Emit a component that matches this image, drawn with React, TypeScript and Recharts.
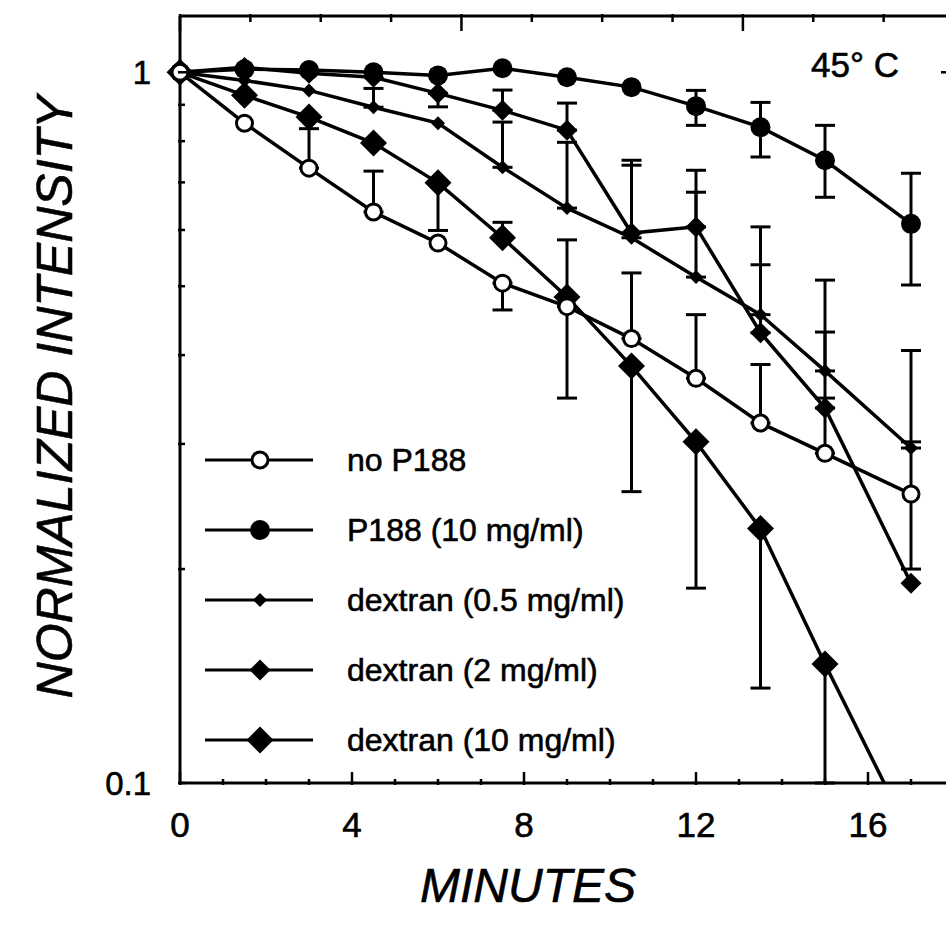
import React from 'react';
import { LineChart, Line, XAxis, YAxis, ErrorBar, Legend } from 'recharts';

// time points (minutes)
const minutes = [0, 1.5, 3, 4.5, 6, 7.5, 9, 10.5, 12, 13.5, 15, 17];

// normalized intensity per series
const noP188 = [1, 0.848, 0.733, 0.636, 0.575, 0.505, 0.468, 0.422, 0.371, 0.321, 0.291, 0.255];
const p188 = [1, 1.01, 1.007, 1.0, 0.99, 1.013, 0.984, 0.953, 0.896, 0.837, 0.752, 0.612];
const dex05 = [1, 0.974, 0.943, 0.893, 0.848, 0.735, 0.644, 0.585, 0.515, 0.456, 0.38, 0.296];
const dex2 = [1, 1.016, 0.997, 0.984, 0.934, 0.884, 0.829, 0.594, 0.606, 0.43, 0.337, 0.191];
const dex10 = [1, 0.928, 0.865, 0.795, 0.699, 0.585, 0.483, 0.386, 0.302, 0.228, 0.147, 0.084];

// error bars as [minus, plus], null = none drawn
type Err = [number, number] | null;
const noP188Err: Err[] = [null, null, [0, 0.1], [0, 0.09], null, [0.042, 0], [0.12, 0], [0, 0.1], [0, 0.085], [0, 0.067], [0, 0.057], [0.055, 0.047]];
const p188Err: Err[] = [null, null, null, null, null, null, null, null, [0.054, 0.047], [0.077, 0.07], [0.085, 0.09], [0.11, 0.109]];
const dex05Err: Err[] = [null, null, null, [0, 0.056], null, [0, 0.116], [0, 0.153], [0, 0.155], [0, 0.163], [0, 0.08], [0, 0.13], [0, 0.11]];
const dex2Err: Err[] = [null, null, null, null, [0.04, 0], [0, 0.06], [0, 0.076], [0, 0.158], [0, 0.122], [0, 0.176], [0, 0.094], null];
const dex10Err: Err[] = [null, null, null, null, [0.1, 0], [0, 0.03], [0, 0.098], [0.129, 0], [0.114, 0], [0.092, 0], [0.047, 0], null];

const xTicks = [0, 1, 2, 3, 4, 5, 6, 7, 8, 9, 10, 11, 12, 13, 14, 15, 16, 17, 18];
const xMajor = [0, 4, 8, 12, 16];
const yTicks = [0.1, 0.2, 0.3, 0.4, 0.5, 0.6, 0.7, 0.8, 0.9, 1];
const yLabels = [0.1, 1];

const series = [
  { key: 'noP188', name: 'no P188', marker: 'open', values: noP188, err: noP188Err },
  { key: 'p188', name: 'P188 (10 mg/ml)', marker: 'filled', values: p188, err: p188Err },
  { key: 'dex05', name: 'dextran (0.5 mg/ml)', marker: 'dS', values: dex05, err: dex05Err },
  { key: 'dex2', name: 'dextran (2 mg/ml)', marker: 'dM', values: dex2, err: dex2Err },
  { key: 'dex10', name: 'dextran (10 mg/ml)', marker: 'dL', values: dex10, err: dex10Err },
];

const rows = minutes.map((t, i) => {
  const row: any = { t };
  series.forEach((s) => {
    row[s.key] = s.values[i];
    if (s.err[i]) row[s.key + 'Err'] = s.err[i];
  });
  return row;
});

const font = '"Liberation Sans", Arial, Helvetica, sans-serif';
// slight stroke to thicken the text like the scanned original
const textInk = { fill: '#000', stroke: '#000', strokeWidth: 0.6 };

const diamond = (cx: number, cy: number, h: number) =>
  `M${cx},${cy - h} L${cx + h},${cy} L${cx},${cy + h} L${cx - h},${cy} Z`;

const Marker = ({ kind, cx, cy }: { kind: string; cx: number; cy: number }) => {
  if (cx == null || cy == null) return null;
  if (kind === 'open') return <circle cx={cx} cy={cy} r={8} fill="#fff" stroke="#000" strokeWidth={3} />;
  if (kind === 'filled') return <circle cx={cx} cy={cy} r={10} fill="#000" />;
  if (kind === 'dS') return <path d={diamond(cx, cy, 7)} fill="#000" />;
  if (kind === 'dM') return <path d={diamond(cx, cy, 10.5)} fill="#000" />;
  return <path d={diamond(cx, cy, 13.5)} fill="#000" />;
};

const BottomTick = ({ x, y, payload }: any) => {
  const major = xMajor.includes(payload.value);
  return (
    <g>
      <line x1={x} y1={y} x2={x} y2={y - (major ? 13 : 6)} stroke="#000" strokeWidth={2.5} />
      {major && (
        <text x={x} y={y + 52} textAnchor="middle" fontSize={35} fontFamily={font} {...textInk}>
          {payload.value}
        </text>
      )}
    </g>
  );
};

const TopTick = ({ x, y, payload }: any) => {
  const major = xMajor.includes(payload.value);
  return <line x1={x} y1={y} x2={x} y2={y + (major ? 17 : 8)} stroke="#000" strokeWidth={2.5} />;
};

const LeftTick = ({ x, y, payload }: any) => (
  <g>
    <line x1={x} y1={y} x2={x + (payload.value === 1 ? 14 : 7)} y2={y} stroke="#000" strokeWidth={2.5} />
    {yLabels.includes(payload.value) && (
      <text x={x - 27} y={y + 12} textAnchor="end" fontSize={33} fontFamily={font} {...textInk}>
        {payload.value}
      </text>
    )}
  </g>
);

const RightTick = ({ x, y, payload }: any) => (
  <line x1={x} y1={y} x2={x - (payload.value === 1 ? 15 : 8)} y2={y} stroke="#000" strokeWidth={2.5} />
);

const LegendBox = () => (
  <div style={{ fontFamily: font, fontSize: 32, color: '#000', WebkitTextStroke: '0.6px #000' }}>
    {series.map((s) => (
      <div key={s.key} style={{ display: 'flex', alignItems: 'center', height: 70 }}>
        <svg width={142} height={40} style={{ display: 'block' }}>
          <line x1={0} y1={20} x2={108} y2={20} stroke="#000" strokeWidth={3} />
          <Marker kind={s.marker} cx={55} cy={20} />
        </svg>
        <span style={{ whiteSpace: 'nowrap' }}>{s.name}</span>
      </div>
    ))}
  </div>
);

const axisLine = { stroke: '#000', strokeWidth: 3 };

export default function App() {
  return (
    <div style={{ position: 'absolute', left: 0, top: 0, width: 946, height: 928, overflow: 'hidden', background: '#fff' }}>
      <LineChart width={980} height={928} data={rows} margin={{ top: 0, right: 0, bottom: 0, left: 0 }}>
        <XAxis
          xAxisId="bottom"
          dataKey="t"
          type="number"
          domain={[0, 18]}
          ticks={xTicks}
          tickCount={19}
          interval={0}
          height={145}
          tickSize={0}
          tickLine={false}
          axisLine={axisLine}
          tick={BottomTick}
          label={{
            content: () => (
              <text x={528} y={902} textAnchor="middle" fontSize={48} fontStyle="italic" fontFamily={font} {...textInk}>
                MINUTES
              </text>
            ),
          }}
        />
        <XAxis
          xAxisId="top"
          orientation="top"
          type="number"
          domain={[0, 18]}
          allowDataOverflow
          ticks={xTicks}
          tickCount={19}
          interval={0}
          height={16}
          tickSize={0}
          tickLine={false}
          axisLine={axisLine}
          tick={TopTick}
          label={{
            content: () => (
              <text x={811} y={77} fontSize={35} fontFamily={font} {...textInk}>
                45° C
              </text>
            ),
          }}
        />
        <YAxis yAxisId="clip" scale="log" domain={[0.1, 1.2]} allowDataOverflow hide width={0} />
        <YAxis
          yAxisId="left"
          scale="log"
          domain={[0.1, 1.2]}
          ticks={yTicks}
          interval={0}
          width={180}
          tickSize={0}
          tickLine={false}
          axisLine={axisLine}
          tick={LeftTick}
          label={{
            content: () => (
              <text
                transform="translate(72,397) rotate(-90)"
                textAnchor="middle"
                fontSize={50}
                fontStyle="italic"
                fontFamily={font}
                {...textInk}
              >
                NORMALIZED INTENSITY
              </text>
            ),
          }}
        />
        <YAxis
          yAxisId="right"
          orientation="right"
          scale="log"
          domain={[0.1, 1.2]}
          allowDataOverflow
          ticks={yTicks}
          interval={0}
          width={26}
          tickSize={0}
          tickLine={false}
          axisLine={axisLine}
          tick={RightTick}
        />
        <Legend
          content={LegendBox}
          layout="vertical"
          align="center"
          verticalAlign="middle"
          wrapperStyle={{ left: 205, top: 425, width: 440 }}
        />
        {[...series].reverse().map((s) => (
          <Line
            key={s.key}
            xAxisId="bottom"
            yAxisId={s.key === 'dex10' ? 'clip' : 'left'}
            dataKey={s.key}
            name={s.name}
            stroke="#000"
            strokeWidth={3.5}
            isAnimationActive={false}
            activeDot={false}
            dot={(p: any) => <Marker key={`${s.key}-${p.index}`} kind={s.marker} cx={p.cx} cy={p.cy} />}
          >
            <ErrorBar dataKey={`${s.key}Err`} direction="y" width={10} strokeWidth={3} stroke="#000" />
          </Line>
        ))}
      </LineChart>
    </div>
  );
}
